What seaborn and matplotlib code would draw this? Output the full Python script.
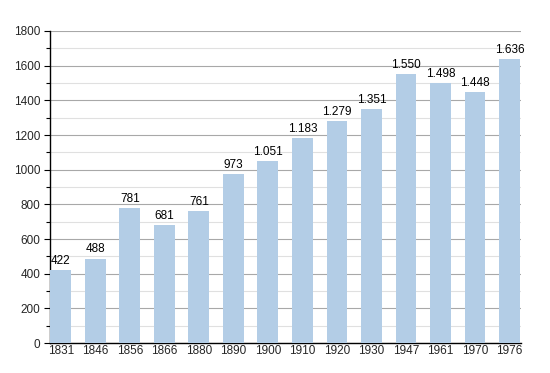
import matplotlib
matplotlib.use("Agg")
import matplotlib.pyplot as plt
import seaborn as sns
import pandas as pd
from matplotlib.ticker import MultipleLocator

years = ["1831", "1846", "1856", "1866", "1880", "1890", "1900", "1910", "1920",
         "1930", "1947", "1961", "1970", "1976"]
population = [422, 488, 781, 681, 761, 973, 1051, 1183, 1279, 1351, 1550, 1498, 1448, 1636]

sns.set_theme(style="white")
plt.rcParams['font.family'] = ['Liberation Sans', 'DejaVu Sans']

df = pd.DataFrame({"year": years, "pop": population})

fig = plt.figure(figsize=(5.5, 3.73), dpi=100)
ax = fig.add_axes([0.091, 0.080, 0.856, 0.837])

sns.barplot(data=df, x="year", y="pop", color="#b3cde6", saturation=1,
            width=0.6, linewidth=0, ax=ax, zorder=3)

ax.set_ylim(0, 1800)
ax.set_xlim(-0.31, len(years) - 1 + 0.33)
ax.yaxis.set_major_locator(MultipleLocator(200))
ax.yaxis.set_minor_locator(MultipleLocator(100))
ax.grid(which="major", axis="y", color="#a8a8a8", linewidth=0.8, zorder=0)
ax.grid(which="minor", axis="y", color="#e0e0e0", linewidth=0.8, zorder=0)
ax.set_axisbelow(True)

for s in ["top", "right"]:
    ax.spines[s].set_visible(False)
for s in ["left", "bottom"]:
    ax.spines[s].set_color("black")
    ax.spines[s].set_linewidth(1.0)

fs = 8.5
ax.tick_params(axis="y", which="major", left=True, length=4, width=0.8, color="black",
               labelsize=fs, pad=3)
ax.tick_params(axis="y", which="minor", left=True, length=3, width=0.8, color="black")
ax.tick_params(axis="x", bottom=False, length=0, labelsize=fs, pad=1.5)
ax.set_xlabel("")
ax.set_ylabel("")

def fmt(v):
    return f"{v:,}".replace(",", ".")

for i, v in enumerate(population):
    ax.text(i, v + 18, fmt(v), ha="center", va="bottom", fontsize=fs, color="black")

fig.savefig("out.png", dpi=100)
